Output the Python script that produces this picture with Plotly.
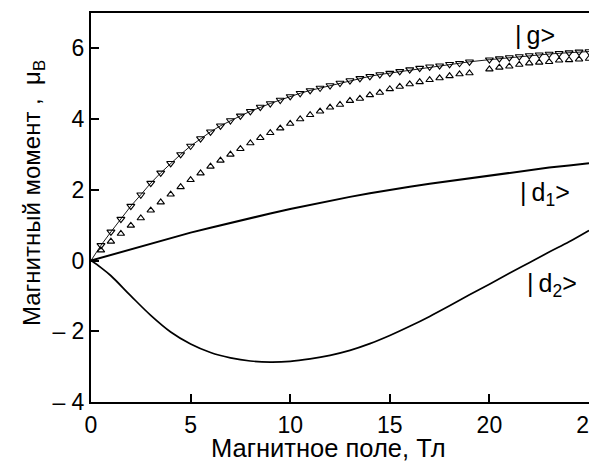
import plotly.graph_objects as go

# Field values (T) for the marker series (step 0.5, no point at 19.5)
field_g = [0, 0.5, 1, 1.5, 2, 2.5, 3, 3.5, 4, 4.5, 5, 5.5, 6, 6.5, 7, 7.5, 8, 8.5, 9, 9.5,
           10, 10.5, 11, 11.5, 12, 12.5, 13, 13.5, 14, 14.5, 15, 15.5, 16, 16.5, 17, 17.5,
           18, 18.5, 19, 20, 20.5, 21, 21.5, 22, 22.5, 23, 23.5, 24, 24.5, 25]
# |g> calculated (down triangles with thin line)
moment_g_down = [0, 0.43, 0.81, 1.17, 1.54, 1.86, 2.19, 2.48, 2.75, 3.0, 3.24, 3.45, 3.64, 3.81,
                 3.96, 4.09, 4.22, 4.34, 4.44, 4.54, 4.64, 4.73, 4.81, 4.88, 4.95, 5.02, 5.09,
                 5.15, 5.21, 5.26, 5.30, 5.35, 5.40, 5.44, 5.48, 5.51, 5.55, 5.58, 5.62, 5.68,
                 5.71, 5.74, 5.77, 5.80, 5.82, 5.84, 5.86, 5.88, 5.90, 5.91]
# second series (up triangles)
moment_g_up = [0, 0.29, 0.54, 0.76, 0.99, 1.20, 1.42, 1.65, 1.87, 2.08, 2.28, 2.47, 2.66, 2.83,
               3.00, 3.16, 3.32, 3.47, 3.61, 3.74, 3.87, 4.00, 4.12, 4.22, 4.33, 4.41, 4.52,
               4.58, 4.68, 4.75, 4.85, 4.92, 4.99, 5.05, 5.11, 5.16, 5.22, 5.27, 5.30, 5.41,
               5.46, 5.49, 5.54, 5.58, 5.60, 5.62, 5.66, 5.67, 5.69, 5.71]

field_d = [0, 0.5, 1, 2, 3, 4, 5, 6, 7, 8, 9, 10, 11, 12, 13, 14, 15, 16, 17, 18, 19, 20,
           21, 22, 23, 24, 25]
moment_d1 = [0, 0.08, 0.17, 0.33, 0.49, 0.64, 0.79, 0.93, 1.07, 1.20, 1.33, 1.46, 1.58,
             1.70, 1.80, 1.90, 2.00, 2.09, 2.17, 2.25, 2.33, 2.41, 2.49, 2.56, 2.63, 2.69, 2.75]
moment_d2 = [0, -0.20, -0.43, -1.00, -1.55, -2.02, -2.36, -2.60, -2.75, -2.84, -2.87, -2.85,
             -2.78, -2.68, -2.54, -2.35, -2.12, -1.86, -1.58, -1.28, -0.97, -0.67, -0.36,
             -0.06, 0.24, 0.53, 0.85]

y_tickvals = [-4, -2, 0, 2, 4, 6]
y_ticktext = ["\u2013 4", "\u2013 2", "0", "2", "4", "6"]
x_tickvals = [0, 5, 10, 15, 20, 25]
x_ticktext = ["0", "5", "10", "15", "20", "25"]

FONT = "Liberation Sans, Arial, sans-serif"

fig = go.Figure()
fig.add_trace(go.Scatter(x=field_d, y=moment_d1, mode="lines",
                         line=dict(color="black", width=2), showlegend=False))
fig.add_trace(go.Scatter(x=field_d, y=moment_d2, mode="lines",
                         line=dict(color="black", width=1.7, shape="spline"), showlegend=False))
fig.add_trace(go.Scatter(x=field_g, y=moment_g_down, mode="lines",
                         line=dict(color="black", width=0.9), showlegend=False))
fig.add_trace(go.Scatter(x=field_g[1:], y=moment_g_down[1:], mode="markers",
                         marker=dict(symbol="triangle-down-open", size=7, color="black",
                                     line=dict(width=1.1)), showlegend=False))
fig.add_trace(go.Scatter(x=field_g[1:], y=moment_g_up[1:], mode="markers",
                         marker=dict(symbol="triangle-up-open", size=6.5, color="black",
                                     line=dict(width=1.1)), showlegend=False))

fig.update_layout(
    width=589, height=466,
    margin=dict(l=91, r=0, t=13, b=64),
    paper_bgcolor="white", plot_bgcolor="white",
    font=dict(family=FONT, size=23, color="black"),
    xaxis=dict(range=[0, 25], tickvals=x_tickvals, ticktext=x_ticktext,
               ticks="inside", ticklen=8, tickwidth=2, tickcolor="black",
               showline=True, linecolor="black", linewidth=2, mirror=True,
               showgrid=False, zeroline=False, tickfont=dict(size=23),
               ticklabelstandoff=1, ticklabeloverflow="allow", automargin=False),
    yaxis=dict(range=[-4, 7], tickvals=y_tickvals, ticktext=y_ticktext,
               ticks="inside", ticklen=8, tickwidth=2, tickcolor="black",
               showline=True, linecolor="black", linewidth=2, automargin=False,
               showgrid=False, zeroline=False, tickfont=dict(size=23)),
    annotations=[
        dict(text="Магнитное поле, Тл", xref="paper", yref="paper",
             x=0.476, y=-0.118, xanchor="center", yanchor="middle",
             showarrow=False, font=dict(size=25.5)),
        dict(text="Магнитный момент ,  \u03bc<sub>B</sub>", xref="paper", yref="paper",
             x=-0.1165, y=0.537, xanchor="center", yanchor="middle", textangle=-90,
             showarrow=False, font=dict(size=24)),
        dict(text="|\u2009g>", x=22.3, y=6.39, showarrow=False, font=dict(size=25)),
        dict(text="|\u2009d<sub>1</sub>>", x=22.8, y=1.89, showarrow=False, font=dict(size=25)),
        dict(text="|\u2009d<sub>2</sub>>", x=23.15, y=-0.7, showarrow=False, font=dict(size=25)),
    ],
)

fig.write_html("out.html", config={"displayModeBar": False},
               post_script="document.body.style.margin='0';")
